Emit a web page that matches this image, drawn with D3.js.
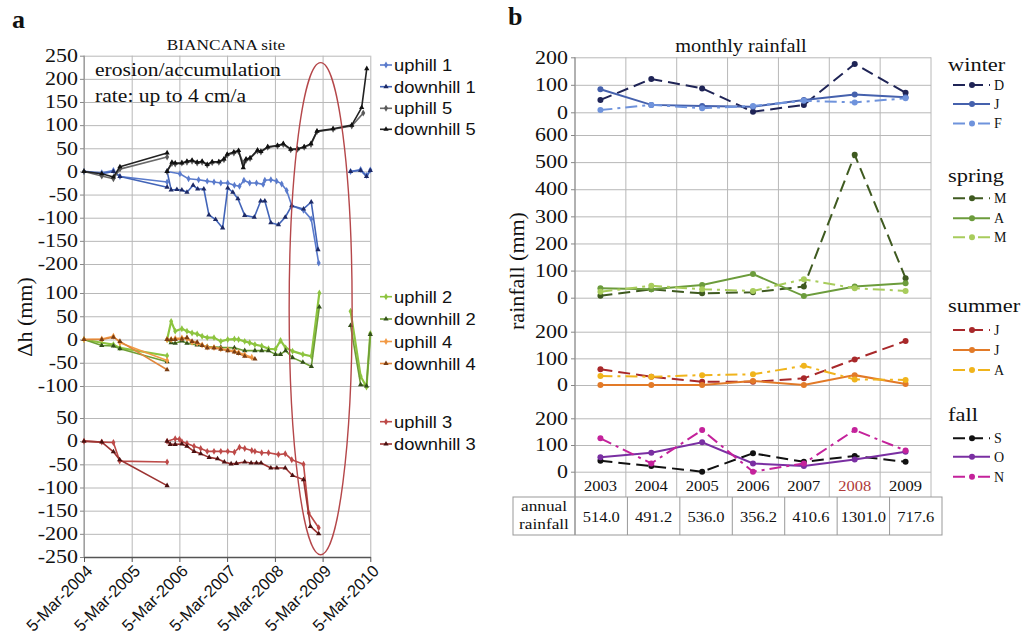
<!DOCTYPE html>
<html><head><meta charset="utf-8">
<script src="https://cdn.jsdelivr.net/npm/d3@7/dist/d3.min.js"></script>
<style>html,body{margin:0;padding:0;background:#fff;overflow:hidden}</style>
</head><body>
<svg id="chart" width="1035" height="634" xmlns="http://www.w3.org/2000/svg"></svg>
<script>
// ================= Panel a data =================
const dateTicksA = ["2004-03-05","2005-03-05","2006-03-05","2007-03-05","2008-03-05","2009-03-05","2010-03-05"];
const yTicksTop = [250,200,150,100,50,0,-50,-100,-150,-200];
const yTicksMid = [100,50,0,-50,-100];
const yTicksBot = [50,0,-50,-100,-150,-200,-250];

const uphill1 = [
 [["2004-03-05",0],["2004-07-19",-3],["2004-10-16",2],["2004-12-05",-11],["2005-12-01",-23]],
 [["2005-12-01",0],["2006-03-09",-5],["2006-05-14",-16],["2006-07-30",-18],["2006-10-04",-21],["2006-11-25",-23],["2007-01-16",-25],["2007-03-10",-25],["2007-04-30",-30],["2007-06-08",-32],["2007-07-12",-19],["2007-08-25",-25],["2007-10-16",-25],["2007-12-06",-28],["2007-12-19",-19],["2008-02-03",-18],["2008-03-18",-21],["2008-04-26",-27],["2008-06-03",-41],["2008-07-12",-74],["2008-10-10",-84],["2008-12-08",-103],["2009-02-03",-198]],
 [["2009-10-05",0],["2009-12-21",4],["2010-02-04",-9],["2010-03-05",3]]
];
const downhill1 = [
 [["2004-03-05",0],["2004-07-19",-5],["2004-10-16",0],["2004-12-05",-11],["2005-12-01",-34]],
 [["2005-12-01",0],["2006-01-01",-40],["2006-02-14",-39],["2006-03-24",-40],["2006-05-02",-45],["2006-06-18",-30],["2006-07-23",-38],["2006-09-08",-38],["2006-10-17",-94],["2006-12-07",-104],["2007-01-30",-122],["2007-03-10",-36],["2007-04-18",-45],["2007-05-27",-59],["2007-07-18",-95],["2007-09-29",-99],["2007-11-17",-64],["2007-12-19",-64],["2008-02-03",-111],["2008-04-01",-115],["2008-05-23",-99],["2008-07-12",-74],["2008-10-10",-81],["2008-12-08",-66],["2009-01-29",-169]],
 [["2009-10-05",0],["2009-12-21",2],["2010-02-04",-11],["2010-03-05",2]]
];
const uphill5 = [
 [["2004-03-05",0],["2004-07-19",-10],["2004-10-16",-16],["2004-12-05",5],["2005-12-01",31]],
 [["2005-12-01",0],["2006-01-07",17],["2006-02-01",16],["2006-03-24",18],["2006-05-02",20],["2006-06-10",22],["2006-07-19",18],["2006-08-26",20],["2006-10-04",14],["2006-11-11",19],["2007-01-01",20],["2007-02-09",25],["2007-03-06",35],["2007-04-26",40],["2007-06-01",43],["2007-07-07",18],["2007-07-28",24],["2007-08-28",28],["2007-10-24",44],["2007-11-19",42],["2008-01-10",52],["2008-03-25",55],["2008-05-08",58],["2008-07-04",47],["2008-08-25",48],["2008-10-15",52],["2008-12-06",58],["2009-01-21",86],["2009-05-24",91],["2009-10-14",98],["2010-01-10",126]]
];
const downhill5 = [
 [["2004-03-05",0],["2004-07-19",-5],["2004-10-16",-12],["2004-12-05",10],["2005-12-01",40]],
 [["2005-12-01",0],["2006-01-07",20],["2006-02-01",18],["2006-03-24",18],["2006-05-02",22],["2006-06-10",24],["2006-07-19",20],["2006-08-26",22],["2006-10-04",15],["2006-11-11",21],["2007-01-01",21],["2007-02-09",27],["2007-03-06",37],["2007-04-26",42],["2007-06-01",45],["2007-07-07",8],["2007-07-28",27],["2007-08-28",29],["2007-10-24",46],["2007-11-19",43],["2008-01-10",53],["2008-03-25",56],["2008-05-08",60],["2008-07-04",48],["2008-08-25",49],["2008-10-15",53],["2008-12-06",60],["2009-01-21",87],["2009-05-24",92],["2009-10-14",100],["2009-12-29",138],["2010-02-06",222]]
];
const uphill2 = [
 [["2004-03-05",0],["2004-07-19",-7],["2004-10-16",-11],["2004-12-05",-18],["2005-12-01",-35]],
 [["2005-12-01",0],["2006-01-01",39],["2006-02-01",18],["2006-03-24",23],["2006-05-02",18],["2006-06-10",14],["2006-07-19",12],["2006-08-26",7],["2006-10-04",4],["2006-11-25",4],["2007-01-16",-4],["2007-03-10",0],["2007-04-30",1],["2007-06-01",0],["2007-07-18",-4],["2007-08-25",-7],["2007-10-04",-11],["2007-11-25",-14],["2008-01-16",-20],["2008-03-09",-21],["2008-04-17",-2],["2008-05-26",-18],["2008-07-18",-25],["2008-10-05",-32],["2008-12-09",-36],["2009-02-08",100]],
 [["2009-10-05",61],["2009-12-21",-79],["2010-02-04",-102],["2010-03-05",13]]
];
const downhill2 = [
 [["2004-03-05",0],["2004-07-19",-13],["2004-10-16",-14],["2004-12-05",-20],["2005-12-01",-48]],
 [["2005-12-01",0],["2006-01-01",-7],["2006-02-01",-8],["2006-03-24",-3],["2006-05-02",-8],["2006-07-19",-12],["2006-10-04",-15],["2007-01-16",-17],["2007-04-30",-18],["2007-07-18",-24],["2007-10-04",-24],["2007-11-25",-24],["2008-01-16",-24],["2008-03-09",-32],["2008-04-17",-32],["2008-05-26",-24],["2008-07-18",-39],["2008-10-05",-49],["2008-12-09",-58],["2009-02-08",70]],
 [["2009-10-05",30],["2009-12-21",-97],["2010-02-04",-100],["2010-03-05",11]]
];
const uphill4 = [
 [["2004-03-05",0],["2004-07-19",1],["2004-10-16",7],["2004-12-05",-7],["2005-12-01",-45]],
 [["2005-12-01",0],["2006-01-01",0],["2006-02-01",2],["2006-03-24",3],["2006-05-02",2],["2006-06-10",-6],["2006-07-19",-8],["2006-08-26",-12],["2006-10-04",-16],["2006-11-25",-17],["2007-01-16",-20],["2007-03-10",-22],["2007-04-30",-25],["2007-06-01",-28],["2007-07-18",-33],["2007-09-10",-38]]
];
const downhill4 = [
 [["2004-03-05",0],["2004-07-19",0],["2004-10-16",5],["2004-12-05",-4],["2005-12-01",-65]],
 [["2005-12-01",0],["2006-01-01",0],["2006-02-01",0],["2006-03-24",1],["2006-05-02",4],["2006-06-10",-4],["2006-07-19",-6],["2006-08-26",-13],["2006-10-04",-18],["2006-11-25",-18],["2007-01-16",-21],["2007-03-10",-24],["2007-04-30",-27],["2007-06-01",-30],["2007-07-18",-36],["2007-10-04",-42]]
];
const uphill3 = [
 [["2004-03-05",0],["2004-07-19",-2],["2004-10-16",-3],["2004-12-03",-43],["2005-12-01",-45]],
 [["2005-12-01",0],["2006-02-01",5],["2006-03-05",4],["2006-03-24",-1],["2006-05-02",-5],["2006-06-25",-11],["2006-08-15",-16],["2006-10-04",-22],["2006-11-25",-22],["2007-01-16",-22],["2007-03-10",-22],["2007-04-30",-24],["2007-06-08",-13],["2007-07-18",-16],["2007-09-10",-20],["2007-10-04",-22],["2007-11-25",-25],["2008-01-16",-25],["2008-04-01",-29],["2008-05-23",-27],["2008-07-12",-40],["2008-10-10",-50],["2008-11-19",-155],["2009-02-03",-187]]
];
const downhill3 = [
 [["2004-03-05",0],["2004-07-19",-2],["2004-10-16",-23],["2004-12-03",-40],["2005-12-01",-96]],
 [["2005-12-01",0],["2005-12-25",-7],["2006-02-01",-7],["2006-03-24",-6],["2006-05-02",-11],["2006-06-25",-22],["2006-08-15",-27],["2006-10-19",-35],["2006-12-22",-38],["2007-02-12",-45],["2007-04-05",-49],["2007-05-15",-48],["2007-07-18",-45],["2007-09-05",-47],["2007-10-16",-47],["2007-11-20",-47],["2008-02-03",-58],["2008-03-20",-58],["2008-05-23",-58],["2008-07-18",-74],["2008-10-10",-83],["2008-12-02",-184],["2009-02-03",-200]]
];
const highlightPeriod = ["2008-06-22","2009-10-17"];

// ================= Panel b data =================
const years = [2003,2004,2005,2006,2007,2008,2009];
const winterTicks = [0,100,200];
const springTicks = [0,100,200,300,400,500,600];
const summerTicks = [0,100,200];
const fallTicks = [0,100,200];
const winterD = [45,121,87,2,27,176,71];
const winterJ = [84,27,23,20,45,65,55];
const winterF = [8,27,15,23,42,36,51];
const springM1 = [7,31,16,20,41,527,72];
const springA = [35,31,47,87,6,41,53];
const springM2 = [22,44,31,25,68,35,25];
const summerJ1 = [59,31,12,12,25,96,165];
const summerJ2 = [0,0,0,15,0,37,4];
const summerA = [34,31,37,40,72,21,19];
const fallS = [41,21,0,69,37,59,37];
const fallO = [54,71,110,31,21,46,75];
const fallN = [125,31,156,0,31,156,79];
const annualRainfall = [514.0,491.2,536.0,356.2,410.6,1301.0,717.6];

// ================= drawing =================
const svg = d3.select("#chart");
const parse = d3.timeParse("%Y-%m-%d");
const SERIF = "'Liberation Serif','Times New Roman',serif";
const SANS = "'Liberation Sans',Arial,sans-serif";
const GRID = "#b8b8b8";

// ---------- panel a ----------
const gA = svg.append("g");
const xA = d3.scaleTime().domain([parse(dateTicksA[0]), parse(dateTicksA[dateTicksA.length-1])]).range([84, 370.3]);
const yA = [
  d3.scaleLinear().domain([-200,250]).range([264,55.7]),
  d3.scaleLinear().domain([-100,100]).range([386,293]),
  d3.scaleLinear().domain([-250,50]).range([557,418])
];
const ticksA = [yTicksTop, yTicksMid, yTicksBot];
const plotTopA = yA[0](250), plotBotA = yA[2](-250);

gA.append("g").attr("transform",`translate(0,${plotBotA})`)
  .call(d3.axisBottom(xA).tickValues(dateTicksA.map(parse)).tickSize(-(plotBotA-plotTopA)).tickFormat(""))
  .call(g=>g.select(".domain").remove())
  .selectAll("line").attr("stroke",GRID);

yA.forEach((y,i)=>{
  gA.append("g").attr("transform","translate(84,0)")
    .call(d3.axisLeft(y).tickValues(ticksA[i]).tickSize(-(xA.range()[1]-84)).tickFormat(""))
    .call(g=>g.select(".domain").remove())
    .selectAll("line").attr("stroke",GRID);
  gA.append("g").attr("transform","translate(84,0)")
    .call(d3.axisLeft(y).tickValues(ticksA[i]).tickSize(4).tickPadding(2).tickFormat(d=>String(d)))
    .call(g=>g.select(".domain").remove())
    .call(g=>g.selectAll("line").attr("stroke","#888"))
    .call(g=>g.selectAll("text").attr("class","st").attr("data-f",1.22)
      .attr("font-family",SERIF).attr("font-size",18).attr("fill","#111"));
});
gA.append("line").attr("x1",84).attr("x2",84).attr("y1",plotTopA).attr("y2",plotBotA).attr("stroke","#888");

gA.append("g").attr("transform",`translate(0,${plotBotA})`)
  .call(d3.axisBottom(xA).tickValues(dateTicksA.map(parse)).tickSize(5).tickSizeOuter(0)
        .tickFormat(d3.timeFormat("%-d-%b-%Y")))
  .call(g=>g.select(".domain").attr("stroke","#555").attr("stroke-width",1.6))
  .call(g=>g.selectAll("line").attr("stroke","#555"))
  .selectAll("text").attr("font-family",SANS).attr("font-size",16.5).attr("fill","#111")
    .attr("text-anchor","end").attr("x",0).attr("y",0).attr("dy","0.35em")
    .attr("transform","translate(5,11) rotate(-45)");

const seriesA = [
  {name:"uphill 1",  data:uphill1,  p:0, c:"#5a7bcc", m:"d", mc:"#5a7bcc", w:1.6},
  {name:"downhill 1",data:downhill1,p:0, c:"#4264b8", m:"t", mc:"#1d2a66", w:1.6},
  {name:"uphill 5",  data:uphill5,  p:0, c:"#6a6a6a", m:"d", mc:"#5a5a5a", w:1.6},
  {name:"downhill 5",data:downhill5,p:0, c:"#222222", m:"t", mc:"#111111", w:1.6},
  {name:"uphill 2",  data:uphill2,  p:1, c:"#8dc43f", m:"d", mc:"#8dc43f", w:2.2},
  {name:"downhill 2",data:downhill2,p:1, c:"#6e9e36", m:"t", mc:"#33501a", w:1.6},
  {name:"uphill 4",  data:uphill4,  p:1, c:"#f29a45", m:"d", mc:"#f29a45", w:1.6},
  {name:"downhill 4",data:downhill4,p:1, c:"#e0873c", m:"t", mc:"#7a3e14", w:1.6},
  {name:"uphill 3",  data:uphill3,  p:2, c:"#bd4a48", m:"d", mc:"#bd4a48", w:1.6},
  {name:"downhill 3",data:downhill3,p:2, c:"#9c3432", m:"t", mc:"#4a1010", w:1.6}
];
const symD = d3.symbol().type(d3.symbolDiamond).size(14);
const symT = d3.symbol().type(d3.symbolTriangle).size(12);
seriesA.forEach(s=>{
  const y = yA[s.p];
  const line = d3.line().x(d=>xA(parse(d[0]))).y(d=>y(d[1]));
  s.data.forEach(seg=>{
    gA.append("path").attr("d",line(seg)).attr("fill","none").attr("stroke",s.c)
      .attr("stroke-width",s.w).attr("stroke-linejoin","round");
    gA.selectAll(null).data(seg).enter().append("path")
      .attr("d", s.m==="t"?symT:symD)
      .attr("transform",d=>`translate(${xA(parse(d[0]))},${y(d[1])})`)
      .attr("fill",s.mc);
  });
});

// legend a
const legPos = [65,86.7,108.3,129.3, 296.7,319,341.5,363.5, 421.7,444];
seriesA.forEach((s,i)=>{
  const yy = legPos[i];
  gA.append("line").attr("x1",380).attr("x2",392).attr("y1",yy).attr("y2",yy).attr("stroke",s.c).attr("stroke-width",1.6);
  gA.append("path").attr("d", s.m==="t"?symT:symD).attr("transform",`translate(386,${yy})`).attr("fill",s.mc);
  gA.append("text").attr("class","st").attr("data-f",1.08).attr("x",394).attr("y",yy).attr("dy","0.36em")
    .attr("font-family",SANS).attr("font-size",17).attr("fill","#111").text(s.name);
});

// highlight ellipse
const hx0 = xA(parse(highlightPeriod[0])), hx1 = xA(parse(highlightPeriod[1]));
const hy0 = yA[0](235), hy1 = yA[2](-245);
gA.append("ellipse").attr("cx",(hx0+hx1)/2).attr("rx",(hx1-hx0)/2)
  .attr("cy",(hy0+hy1)/2).attr("ry",(hy1-hy0)/2)
  .attr("fill","none").attr("stroke","#b5474a").attr("stroke-width",1.4);

// texts a
svg.append("text").attr("x",12).attr("y",28).attr("font-family",SERIF).attr("font-weight","bold")
  .attr("font-size",26).attr("fill","#111").text("a");
svg.append("text").attr("class","st").attr("data-f",1.15).attr("x",226).attr("y",50).attr("text-anchor","middle")
  .attr("font-family",SERIF).attr("font-size",15).attr("fill","#111").text("BIANCANA site");
svg.append("text").attr("class","st").attr("data-f",1.2).attr("x",95).attr("y",76)
  .attr("font-family",SERIF).attr("font-size",18).attr("fill","#111").text("erosion/accumulation");
svg.append("text").attr("class","st").attr("data-f",1.2).attr("x",95).attr("y",101.5)
  .attr("font-family",SERIF).attr("font-size",18).attr("fill","#111").text("rate: up to 4 cm/a");
svg.append("text").attr("transform","translate(32,317) rotate(-90)").attr("text-anchor","middle")
  .attr("font-family",SERIF).attr("font-size",22).attr("fill","#111").text("Δh (mm)");

// ---------- panel b ----------
const gB = svg.append("g");
const xB = d3.scalePoint().domain(years).range([575,931]).padding(0.5);
const xBand = d3.scaleBand().domain(years).range([575,931]);
const xTab = d3.scaleBand().domain(years).range([575,942]);
const DASH = "12,6", DASHDOT = "12,5,3,5";
const groups = [
  {title:"winter", ticks:winterTicks, y:d3.scaleLinear().domain([0,200]).range([112.3,57.3]),
   legY:[70.5,85,104,123.5],
   series:[{n:"D",v:winterD,c:"#1f2456",dash:DASH},{n:"J",v:winterJ,c:"#4561ad",dash:null},{n:"F",v:winterF,c:"#6f93dc",dash:DASHDOT}]},
  {title:"spring", ticks:springTicks, y:d3.scaleLinear().domain([0,600]).range([297.7,135]),
   legY:[181.5,198.3,218.3,237.3],
   series:[{n:"M",v:springM1,c:"#3f5a20",dash:DASH},{n:"A",v:springA,c:"#6c9c3c",dash:null},{n:"M",v:springM2,c:"#a8cc5c",dash:DASHDOT}]},
  {title:"summer", ticks:summerTicks, y:d3.scaleLinear().domain([0,200]).range([385,331.7]),
   legY:[311.5,330,350,370],
   series:[{n:"J",v:summerJ1,c:"#a8282a",dash:DASH},{n:"J",v:summerJ2,c:"#e27a28",dash:null},{n:"A",v:summerA,c:"#f0b41c",dash:DASHDOT}]},
  {title:"fall", ticks:fallTicks, y:d3.scaleLinear().domain([0,200]).range([471.7,418.3]),
   legY:[421,438.3,456.7,476.7],
   series:[{n:"S",v:fallS,c:"#111111",dash:DASH},{n:"O",v:fallO,c:"#7a2fa2",dash:null},{n:"N",v:fallN,c:"#c4229b",dash:DASHDOT}]}
];
const plotTopB = groups[0].y(200), yearRowBot = 497, tabBot = 535;

// vertical grid (through year row)
years.concat(["end"]).forEach(yr=>{
  const xx = yr==="end" ? xBand.range()[1] : xBand(yr);
  gB.append("line").attr("x1",xx).attr("x2",xx).attr("y1",plotTopB).attr("y2",yearRowBot).attr("stroke",GRID);
});
groups.forEach(g=>{
  gB.append("g").attr("transform","translate(575,0)")
    .call(d3.axisLeft(g.y).tickValues(g.ticks).tickSize(-(931-575)).tickFormat(""))
    .call(s=>s.select(".domain").remove())
    .selectAll("line").attr("stroke",GRID);
  gB.append("g").attr("transform","translate(575,0)")
    .call(d3.axisLeft(g.y).tickValues(g.ticks).tickSize(4).tickPadding(3).tickFormat(d=>String(d)))
    .call(s=>s.select(".domain").remove())
    .call(s=>s.selectAll("line").attr("stroke","#888"))
    .call(s=>s.selectAll("text").attr("class","st").attr("data-f",1.22)
      .attr("font-family",SERIF).attr("font-size",18).attr("fill","#111"));
});
gB.append("line").attr("x1",575).attr("x2",575).attr("y1",plotTopB).attr("y2",tabBot).attr("stroke","#888");

// series lines
groups.forEach(g=>{
  g.series.forEach(s=>{
    const line = d3.line().x((d,i)=>xB(years[i])).y(d=>g.y(d));
    gB.append("path").attr("d",line(s.v)).attr("fill","none").attr("stroke",s.c).attr("stroke-width",2)
      .attr("stroke-dasharray",s.dash);
    gB.selectAll(null).data(s.v).enter().append("circle")
      .attr("cx",(d,i)=>xB(years[i])).attr("cy",d=>g.y(d)).attr("r",3).attr("fill",s.c);
  });
  // legend
  gB.append("text").attr("class","st").attr("data-f",1.18).attr("x",948).attr("y",g.legY[0])
    .attr("font-family",SERIF).attr("font-size",19).attr("fill","#111").text(g.title);
  g.series.forEach((s,i)=>{
    const yy = g.legY[i+1];
    gB.append("line").attr("x1",953).attr("x2",990).attr("y1",yy).attr("y2",yy)
      .attr("stroke",s.c).attr("stroke-width",2).attr("stroke-dasharray",s.dash);
    gB.append("circle").attr("cx",972).attr("cy",yy).attr("r",3).attr("fill",s.c);
    gB.append("text").attr("x",994).attr("y",yy).attr("dy","0.35em").attr("font-family",SERIF)
      .attr("font-size",14).attr("fill","#111").text(s.n);
  });
});

// year row
years.forEach(yr=>{
  gB.append("text").attr("class","st").attr("data-f",1.1).attr("x",xB(yr)).attr("y",491)
    .attr("text-anchor","middle").attr("font-family",SERIF).attr("font-size",15)
    .attr("fill", yr===2008?"#b03a3a":"#111").text(yr);
});
// annual rainfall table row
gB.append("rect").attr("x",513).attr("y",yearRowBot).attr("width",942-513).attr("height",tabBot-yearRowBot)
  .attr("fill","none").attr("stroke","#999");
years.forEach(yr=>{
  gB.append("line").attr("x1",xTab(yr)).attr("x2",xTab(yr)).attr("y1",yearRowBot).attr("y2",tabBot).attr("stroke","#999");
});
annualRainfall.forEach((v,i)=>{
  gB.append("text").attr("class","st").attr("data-f",1.1).attr("x",xTab(years[i])+xTab.bandwidth()/2).attr("y",521.5)
    .attr("text-anchor","middle").attr("font-family",SERIF).attr("font-size",15).attr("fill","#111")
    .text(d3.format(".1f")(v));
});
gB.append("text").attr("class","st").attr("data-f",1.15).attr("x",544).attr("y",511).attr("text-anchor","middle")
  .attr("font-family",SERIF).attr("font-size",15).attr("fill","#111").text("annual");
gB.append("text").attr("class","st").attr("data-f",1.15).attr("x",544).attr("y",528.5).attr("text-anchor","middle")
  .attr("font-family",SERIF).attr("font-size",15).attr("fill","#111").text("rainfall");

// texts b
svg.append("text").attr("x",508).attr("y",25).attr("font-family",SERIF).attr("font-weight","bold")
  .attr("font-size",26).attr("fill","#111").text("b");
svg.append("text").attr("class","st").attr("data-f",1.13).attr("x",741).attr("y",51.5).attr("text-anchor","middle")
  .attr("font-family",SERIF).attr("font-size",18).attr("fill","#111").text("monthly rainfall");
svg.append("text").attr("transform","translate(524,271) rotate(-90)").attr("text-anchor","middle")
  .attr("font-family",SERIF).attr("font-size",22).attr("fill","#111").text("rainfall (mm)");

// horizontal stretch of text to match the reference's wide glyphs
svg.selectAll("text.st").each(function(){
  const f = +this.getAttribute("data-f") || 1;
  const w = this.getComputedTextLength();
  this.setAttribute("textLength", (w*f).toFixed(1));
  this.setAttribute("lengthAdjust","spacingAndGlyphs");
});
</script>
</body></html>
